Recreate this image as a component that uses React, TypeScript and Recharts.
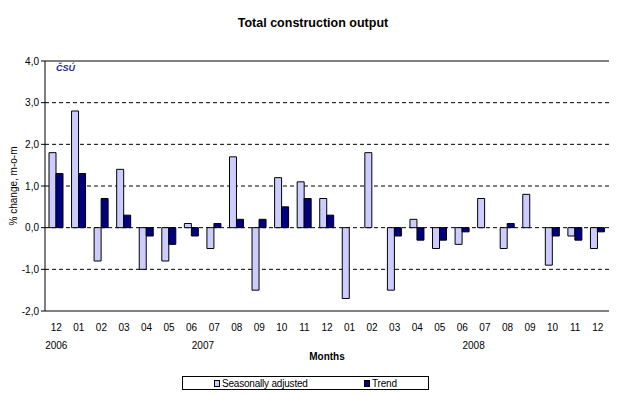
import { BarChart, Bar, XAxis, YAxis, CartesianGrid, Legend, ReferenceLine } from 'recharts'

const MONTHS = [
  '12', '01', '02', '03', '04', '05', '06', '07', '08', '09', '10', '11', '12',
  '01', '02', '03', '04', '05', '06', '07', '08', '09', '10', '11', '12',
]

const SEASONALLY_ADJUSTED = [
  1.8, 2.8, -0.8, 1.4, -1.0, -0.8, 0.1, -0.5, 1.7, -1.5, 1.2, 1.1, 0.7,
  -1.7, 1.8, -1.5, 0.2, -0.5, -0.4, 0.7, -0.5, 0.8, -0.9, -0.2, -0.5,
]

const TREND = [
  1.3, 1.3, 0.7, 0.3, -0.2, -0.4, -0.2, 0.1, 0.2, 0.2, 0.5, 0.7, 0.3,
  0, 0, -0.2, -0.3, -0.3, -0.1, 0, 0.1, 0, -0.2, -0.3, -0.1,
]

// year label and the first / last month index it spans
const YEARS = ['2006', '2007', '2008']
const YEAR_FROM = [0, 1, 13]
const YEAR_TO = [0, 12, 24]

const Y_TICKS = [-2, -1, 0, 1, 2, 3, 4]
const GRID_VALUES = [-1, 0, 1, 2, 3]

const W = 626
const H = 396
const MARGIN = { top: 61, right: 17, left: 0, bottom: 0 }
const Y_AXIS_W = 45
const LEGEND_H = 14
const X_AXIS_H = 85 - LEGEND_H
const CAT_W = (W - MARGIN.right - Y_AXIS_W) / MONTHS.length

const data = MONTHS.map((m, i) => ({
  month: m,
  sa: SEASONALLY_ADJUSTED[i],
  trend: TREND[i],
}))

const font = 'Arial, "Liberation Sans", sans-serif'

function MonthTick(props: any) {
  const { x, y, payload } = props
  const i = payload.index
  const years = YEARS.map((label, k) => ({ label, mid: (YEAR_FROM[k] + YEAR_TO[k]) / 2 }))
    .filter(yr => Math.floor(yr.mid) === i)
  return (
    <g>
      <text x={x} y={y + 12} textAnchor="middle" fontSize={10} fill="#000" fontFamily={font}>
        {payload.value}
      </text>
      {years.map(yr => (
        <text key={yr.label} x={x + (yr.mid - i) * CAT_W} y={y + 30} textAnchor="middle"
          fontSize={10} fill="#000" fontFamily={font}>
          {yr.label}
        </text>
      ))}
    </g>
  )
}

function LegendBox() {
  const item = (color: string, label: string, width: number) => (
    <span style={{ display: 'inline-flex', alignItems: 'center', width }}>
      <span style={{ width: 6, height: 7, background: color, border: '1px solid #000', marginRight: 2, boxSizing: 'border-box' }} />
      <span>{label}</span>
    </span>
  )
  return (
    <div style={{
      width: 247, height: LEGEND_H, border: '1px solid #000', boxSizing: 'border-box',
      fontFamily: font, fontSize: 10, display: 'flex', alignItems: 'center', paddingLeft: 31,
      background: '#fff', letterSpacing: -0.2,
    }}>
      {item('#ccccff', 'Seasonally adjusted', 150)}
      {item('#000080', 'Trend', 60)}
    </div>
  )
}

export default function App() {
  return (
    <div style={{ position: 'absolute', left: 0, top: 0, width: W, height: H, background: '#fff' }}>
      <BarChart width={W} height={H} data={data} margin={MARGIN} barGap={0} barSize={7}>
        <text x={313} y={27} textAnchor="middle" fontSize={12.5} fontWeight="bold" fontFamily={font} fill="#000">
          Total construction output
        </text>
        <CartesianGrid vertical={false} horizontalValues={GRID_VALUES} stroke="#000" strokeDasharray="4 3" />
        <ReferenceLine y={4} stroke="#000" strokeWidth={1} />
        <XAxis dataKey="month" interval={0} height={X_AXIS_H} tickLine={false}
          axisLine={{ stroke: '#000' }} tick={<MonthTick />}
          label={{ value: 'Months', position: 'insideTop', offset: 42, fontSize: 10, fontWeight: 'bold', fill: '#000', fontFamily: font }} />
        <YAxis domain={[-2, 4]} ticks={Y_TICKS} width={Y_AXIS_W} tickLine={{ stroke: '#000' }} tickSize={4} tickMargin={2}
          axisLine={{ stroke: '#000' }} interval={0}
          tick={{ fontSize: 10, fill: '#000', fontFamily: font }}
          tickFormatter={(v: number) => v.toFixed(1).replace('.', ',')}
          label={{ value: '% change, m-o-m', angle: -90, position: 'insideLeft', offset: 13, fontSize: 10, fill: '#000', fontFamily: font, style: { textAnchor: 'middle' } }} />
        <YAxis yAxisId="frame" orientation="right" width={0} tick={false} tickLine={false}
          axisLine={{ stroke: '#000' }} />
        <Legend content={<LegendBox />} wrapperStyle={{ left: 182, top: 376, width: 247, height: LEGEND_H }} />
        <Bar dataKey="sa" name="Seasonally adjusted" fill="#ccccff" stroke="#000" strokeWidth={1} isAnimationActive={false} />
        <Bar dataKey="trend" name="Trend" fill="#000080" stroke="#000" strokeWidth={1} isAnimationActive={false} />
        <text x={56} y={71} fontSize={9} fontWeight="bold" fontStyle="italic" fontFamily={font} fill="#1a2a9a">
          ČSÚ
        </text>
      </BarChart>
    </div>
  )
}
